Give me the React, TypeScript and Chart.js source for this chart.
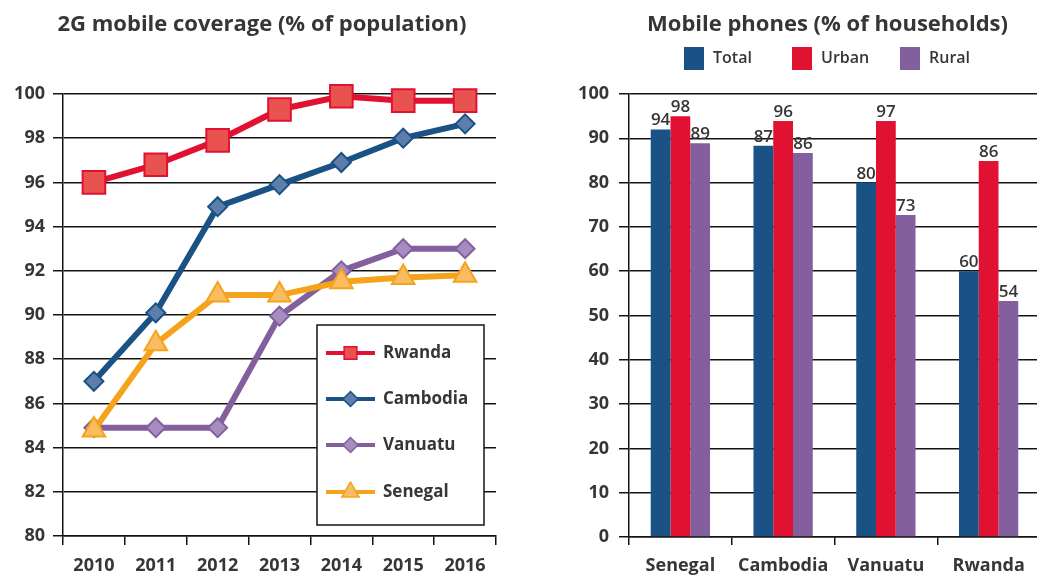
import React, { useEffect, useRef } from "react";
import { Chart, registerables } from "chart.js";
Chart.register(...registerables);

// ---- Data: 2G mobile coverage (% of population)
const years = ["2010", "2011", "2012", "2013", "2014", "2015", "2016"];
const rwanda = [96, 96.8, 97.9, 99.3, 99.9, 99.7, 99.7];
const cambodia = [87, 90.1, 94.9, 95.9, 96.9, 98, 98.65];
const vanuatu = [84.9, 84.9, 84.9, 89.95, 92, 93, 93];
const senegal = [84.8, 88.7, 90.9, 90.9, 91.5, 91.7, 91.8];

// ---- Data: Mobile phones (% of households)
const countries = ["Senegal", "Cambodia", "Vanuatu", "Rwanda"];
const totalBars = [92, 88.3, 80, 60];
const urbanBars = [95, 93.9, 93.9, 84.9];
const ruralBars = [88.9, 86.7, 72.7, 53.3];
const totalLabels = ["94", "87", "80", "60"];
const urbanLabels = ["98", "96", "97", "86"];
const ruralLabels = ["89", "86", "73", "54"];

const FONT = "'Open Sans', 'DejaVu Sans', sans-serif";
const TEXT = "#363636";
const GRID = "#141414";

const RED = "#e11131";
const RED_FILL = "#e9534f";
const BLUE = "#1b5286";
const BLUE_FILL = "#5d7eab";
const PURPLE = "#83609d";
const PURPLE_FILL = "#a68cc0";
const ORANGE = "#f5a31a";
const ORANGE_FILL = "#f9bc62";

function marker(ctx: CanvasRenderingContext2D, style: string, x: number, y: number, r: number) {
  ctx.beginPath();
  if (style === "rect") {
    const s = r * Math.SQRT1_2;
    ctx.rect(x - s, y - s, 2 * s, 2 * s);
  } else if (style === "rectRot") {
    ctx.moveTo(x - r, y);
    ctx.lineTo(x, y - r);
    ctx.lineTo(x + r, y);
    ctx.lineTo(x, y + r);
    ctx.closePath();
  } else {
    ctx.moveTo(x, y - r);
    ctx.lineTo(x + r * Math.sin((2 * Math.PI) / 3), y - r * Math.cos((2 * Math.PI) / 3));
    ctx.lineTo(x + r * Math.sin((4 * Math.PI) / 3), y - r * Math.cos((4 * Math.PI) / 3));
    ctx.closePath();
  }
  ctx.fill();
  ctx.stroke();
}

const lineLegendPlugin = {
  id: "lineLegendBox",
  afterDraw(chart: any) {
    const ctx = chart.ctx as CanvasRenderingContext2D;
    ctx.save();
    ctx.fillStyle = "#ffffff";
    ctx.fillRect(317, 325, 167, 200);
    ctx.strokeStyle = GRID;
    ctx.lineWidth = 1.5;
    ctx.strokeRect(317, 325, 167, 200);
    const items = [
      { name: "Rwanda", c: RED, f: RED_FILL, s: "rect", r: 9, y: 353 },
      { name: "Cambodia", c: BLUE, f: BLUE_FILL, s: "rectRot", r: 7.5, y: 399 },
      { name: "Vanuatu", c: PURPLE, f: PURPLE_FILL, s: "rectRot", r: 7.5, y: 445 },
      { name: "Senegal", c: ORANGE, f: ORANGE_FILL, s: "triangle", r: 10, y: 492 },
    ];
    items.forEach((it) => {
      ctx.strokeStyle = it.c;
      ctx.lineWidth = 4;
      ctx.beginPath();
      ctx.moveTo(326, it.y);
      ctx.lineTo(375, it.y);
      ctx.stroke();
      ctx.fillStyle = it.f;
      ctx.lineWidth = 1.5;
      marker(ctx, it.s, 350.5, it.y, it.r);
      ctx.fillStyle = TEXT;
      ctx.font = `700 17px ${FONT}`;
      ctx.textBaseline = "middle";
      ctx.textAlign = "left";
      ctx.fillText(it.name, 383, it.y);
    });
    ctx.restore();
  },
};

const barExtrasPlugin = {
  id: "barExtras",
  afterDatasetsDraw(chart: any) {
    const ctx = chart.ctx as CanvasRenderingContext2D;
    const labelSets = [totalLabels, urbanLabels, ruralLabels];
    ctx.save();
    ctx.fillStyle = TEXT;
    ctx.font = `600 17px ${FONT}`;
    ctx.textAlign = "center";
    ctx.textBaseline = "alphabetic";
    labelSets.forEach((labels, i) => {
      const meta = chart.getDatasetMeta(i);
      meta.data.forEach((bar: any, j: number) => {
        ctx.fillText(labels[j], bar.x, bar.y - 4);
      });
    });
    // legend
    const items = [
      { name: "Total", c: BLUE, x: 684 - 520 },
      { name: "Urban", c: RED, x: 792 - 520 },
      { name: "Rural", c: PURPLE, x: 900 - 520 },
    ];
    ctx.font = `600 16px ${FONT}`;
    ctx.textAlign = "left";
    ctx.textBaseline = "middle";
    items.forEach((it) => {
      ctx.fillStyle = it.c;
      ctx.fillRect(it.x, 47, 20, 23);
      ctx.fillStyle = TEXT;
      ctx.fillText(it.name, it.x + 29, 58.5);
    });
    ctx.restore();
  },
};

const tickFont = { family: FONT, size: 18, weight: 700 as any };

function LineChart() {
  const ref = useRef<HTMLCanvasElement>(null);
  useEffect(() => {
    const mk = (label: string, data: number[], c: string, f: string, style: string, r: number, order: number) => ({
      label,
      data,
      borderColor: c,
      backgroundColor: f,
      borderWidth: 6,
      pointStyle: style,
      pointRadius: r,
      pointBorderWidth: 2,
      pointBorderColor: c,
      pointBackgroundColor: f,
      clip: false,
      order,
    });
    const chart = new Chart(ref.current!, {
      type: "line",
      data: {
        labels: years,
        datasets: [
          mk("Rwanda", rwanda, RED, RED_FILL, "rect", 16, 4),
          mk("Cambodia", cambodia, BLUE, BLUE_FILL, "rectRot", 9.5, 3),
          mk("Vanuatu", vanuatu, PURPLE, PURPLE_FILL, "rectRot", 9.5, 2),
          mk("Senegal", senegal, ORANGE, ORANGE_FILL, "triangle", 13, 1),
        ] as any,
      },
      options: {
        animation: false,
        responsive: false,
        layout: { padding: { left: 10, top: 94, right: 24, bottom: 0 }, autoPadding: false } as any,
        plugins: { legend: { display: false }, tooltip: { enabled: false }, title: { display: false } },
        scales: {
          x: {
            offset: true,
            grid: { offset: true, drawOnChartArea: false, drawTicks: true, tickLength: 9, color: GRID, lineWidth: 1.5 },
            border: { display: true, color: GRID, width: 1.5 },
            ticks: { font: tickFont, color: TEXT, padding: 10 },
            afterFit: (s: any) => {
              s.height = 42;
            },
          },
          y: {
            min: 80,
            max: 100,
            ticks: { stepSize: 2, font: tickFont, color: TEXT, padding: 8 },
            grid: { color: GRID, lineWidth: 1.5, tickLength: 10 },
            border: { display: true, color: GRID, width: 1.5 },
            afterFit: (s: any) => {
              s.width = 53;
            },
          },
        },
      },
      plugins: [lineLegendPlugin],
    });
    return () => chart.destroy();
  }, []);
  return <canvas ref={ref} width={520} height={578} style={{ position: "absolute", left: 0, top: 0 }} />;
}

function BarChart() {
  const ref = useRef<HTMLCanvasElement>(null);
  useEffect(() => {
    const mk = (label: string, data: number[], c: string) => ({
      label,
      data,
      backgroundColor: c,
      borderWidth: 0,
      barPercentage: 1,
      categoryPercentage: 0.577,
    });
    const chart = new Chart(ref.current!, {
      type: "bar",
      data: {
        labels: countries,
        datasets: [mk("Total", totalBars, BLUE), mk("Urban", urbanBars, RED), mk("Rural", ruralBars, PURPLE)],
      },
      options: {
        animation: false,
        responsive: false,
        layout: { padding: { left: 10, top: 94, right: 2, bottom: 0 }, autoPadding: false } as any,
        plugins: { legend: { display: false }, tooltip: { enabled: false }, title: { display: false } },
        scales: {
          x: {
            grid: { offset: true, drawOnChartArea: false, drawTicks: true, tickLength: 8, color: GRID, lineWidth: 1.5 },
            border: { display: true, color: GRID, width: 1.5 },
            ticks: { font: tickFont, color: TEXT, padding: 10 },
            afterFit: (s: any) => {
              s.height = 41;
            },
          },
          y: {
            min: 0,
            max: 100,
            ticks: { stepSize: 10, font: tickFont, color: TEXT, padding: 10 },
            grid: { color: GRID, lineWidth: 1.5, tickLength: 10 },
            border: { display: true, color: GRID, width: 1.5 },
            afterFit: (s: any) => {
              s.width = 99;
            },
          },
        },
      },
      plugins: [barExtrasPlugin],
    });
    return () => chart.destroy();
  }, []);
  return <canvas ref={ref} width={522} height={578} style={{ position: "absolute", left: 520, top: 0 }} />;
}

const titleStyle: React.CSSProperties = {
  position: "absolute",
  top: 7,
  height: 30,
  lineHeight: "30px",
  textAlign: "center",
  fontFamily: FONT,
  fontWeight: 700,
  fontSize: 22,
  color: TEXT,
  whiteSpace: "nowrap",
};

export default function App() {
  return (
    <div
      style={{
        position: "absolute",
        left: 0,
        top: 0,
        width: 1037,
        height: 578,
        overflow: "hidden",
        background: "#ffffff",
      }}
    >
      <LineChart />
      <BarChart />
      <div style={{ ...titleStyle, left: 0, width: 524 }}>2G mobile coverage (% of population)</div>
      <div style={{ ...titleStyle, left: 620, width: 415 }}>Mobile phones (% of households)</div>
    </div>
  );
}
